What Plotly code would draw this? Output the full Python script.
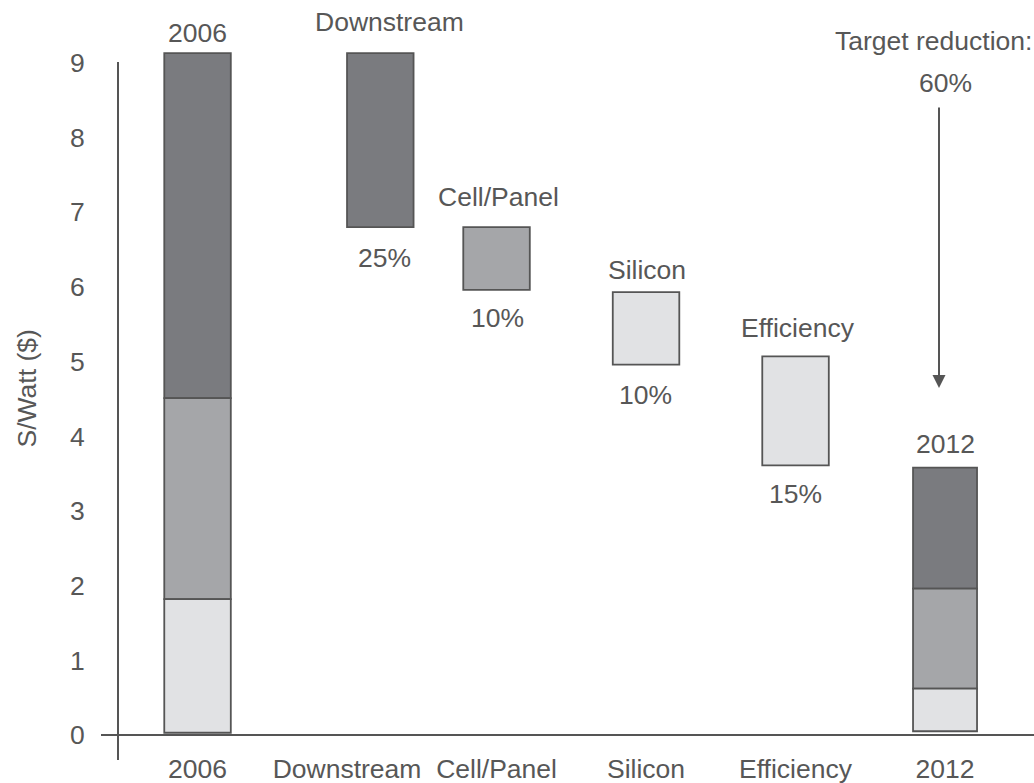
import plotly.graph_objects as go

# ---------------- data ----------------
categories = ["2006", "Downstream", "Cell/Panel", "Silicon", "Efficiency", "2012"]
top_labels = ["2006", "Downstream", "Cell/Panel", "Silicon", "Efficiency", "2012"]
pct_labels = ["", "25%", "10%", "10%", "15%", ""]

dark_base = [4.51, 6.80, None, None, None, 1.96]
dark_top = [9.13, 9.13, None, None, None, 3.58]
medium_base = [1.82, None, 5.96, None, None, 0.62]
medium_top = [4.51, None, 6.80, None, None, 1.96]
light_base = [0.03, None, None, 4.96, 3.61, 0.05]
light_top = [1.82, None, None, 5.93, 5.07, 0.62]

y_ticks = [0, 1, 2, 3, 4, 5, 6, 7, 8, 9]
y_title = "S/Watt ($)"
target_text = ["Target reduction:", "60%"]

# ---------------- style ----------------
FONT = "Liberation Sans, Arial, sans-serif"
TXT = "#575757"
LINE = "#555555"
FS = 26.5
colors = {"dark": "#7a7b7f", "medium": "#a5a6a9", "light": "#e1e2e4"}

widths = [0.445, 0.445, 0.445, 0.445, 0.445, 0.428]
offsets = [-0.2225, 0.0, -0.2225, -0.2225, -0.2225, -0.214]


def heights(base, top):
    return [None if b is None else t - b for b, t in zip(base, top)]


fig = go.Figure()
for name, base, top in [("dark", dark_base, dark_top),
                        ("medium", medium_base, medium_top),
                        ("light", light_base, light_top)]:
    fig.add_trace(go.Bar(
        x=list(range(len(categories))), y=heights(base, top), base=base,
        width=widths, offset=offsets,
        marker=dict(color=colors[name], line=dict(color=LINE, width=1.8)),
        showlegend=False, hoverinfo="skip",
    ))

# page geometry (body margin is removed in the page, see write_html below)
W, H = 1034, 783
PL, PB, PT = 118, 735, 18          # page pixels: y-axis x, x-axis y, plot top
L, T, B, R = PL, PT, H - PB, 0
pw = W - L - R
ph = H - T - B


def px_x(p):
    return (p - PL) / pw


def px_y(p):
    return (PB - p) / ph


annos = []
top_vals, bot_vals = [], []
for i in range(len(categories)):
    vals = [v for v in (dark_top[i], medium_top[i], light_top[i]) if v is not None]
    top_vals.append(max(vals))
    vals = [v for v in (dark_base[i], medium_base[i], light_base[i]) if v is not None]
    bot_vals.append(min(vals))

top_shift = [20, 31, 30.5, 22, 28.5, 23.5]
top_xshift = [0, 42, 1.5, 1, 2.5, 0]
for i, lab in enumerate(top_labels):
    annos.append(dict(x=i, y=top_vals[i], xref="x", yref="y",
                      text=lab, showarrow=False, xanchor="center", yanchor="middle",
                      xshift=top_xshift[i], yshift=top_shift[i]))
bot_shift = [0, -30.5, -28, -30, -29, 0]
bot_xshift = [0, 37, 0.5, -1, -0.5, 0]
for i, lab in enumerate(pct_labels):
    if lab:
        annos.append(dict(x=i, y=bot_vals[i], xref="x", yref="y",
                          text=lab, showarrow=False, xanchor="center", yanchor="middle",
                          xshift=bot_xshift[i], yshift=bot_shift[i]))

annos.append(dict(x=px_x(933), y=px_y(41), xref="paper", yref="paper",
                  text=target_text[0], showarrow=False,
                  xanchor="center", yanchor="middle"))
annos.append(dict(x=px_x(945), y=px_y(82.5), xref="paper", yref="paper",
                  text=target_text[1], showarrow=False,
                  xanchor="center", yanchor="middle"))
annos.append(dict(x=px_x(939), y=px_y(388), xref="paper", yref="paper",
                  text="", showarrow=True, ax=0, ay=-(388 - 106),
                  arrowhead=2, arrowsize=1.3, arrowwidth=2, arrowcolor=LINE))
annos.append(dict(x=px_x(26), y=px_y(388.5), xref="paper", yref="paper",
                  text=y_title, textangle=-90, showarrow=False,
                  xanchor="center", yanchor="middle"))

shapes = [
    dict(type="line", xref="paper", yref="paper",
         x0=px_x(101), x1=px_x(1040), y0=0, y1=0,
         line=dict(color=LINE, width=2)),
    dict(type="line", xref="paper", yref="paper",
         x0=0, x1=0, y0=px_y(760), y1=px_y(62),
         line=dict(color=LINE, width=2)),
]

fig.update_layout(
    width=W, height=H,
    margin=dict(l=L, r=R, t=T, b=B, autoexpand=False),
    paper_bgcolor="white", plot_bgcolor="white",
    barmode="overlay",
    font=dict(family=FONT, size=FS, color=TXT),
    annotations=annos, shapes=shapes,
    xaxis=dict(range=[-0.532, -0.532 + pw / 149.5], showline=False,
               tickvals=list(range(len(categories))), ticktext=categories,
               showgrid=False, zeroline=False, ticks="outside", ticklen=10,
               tickcolor="rgba(0,0,0,0)", tickfont=dict(size=FS, color=TXT)),
    yaxis=dict(range=[0, ph / 74.69], tickvals=y_ticks, showline=False,
               showgrid=False, zeroline=False, ticks="outside", ticklen=27,
               tickcolor="rgba(0,0,0,0)", tickfont=dict(size=FS, color=TXT)),
)

fig.write_html("out.html",
               config={"displayModeBar": False},
               post_script="document.body.style.margin='0';"
                           "document.body.style.overflow='hidden';")
